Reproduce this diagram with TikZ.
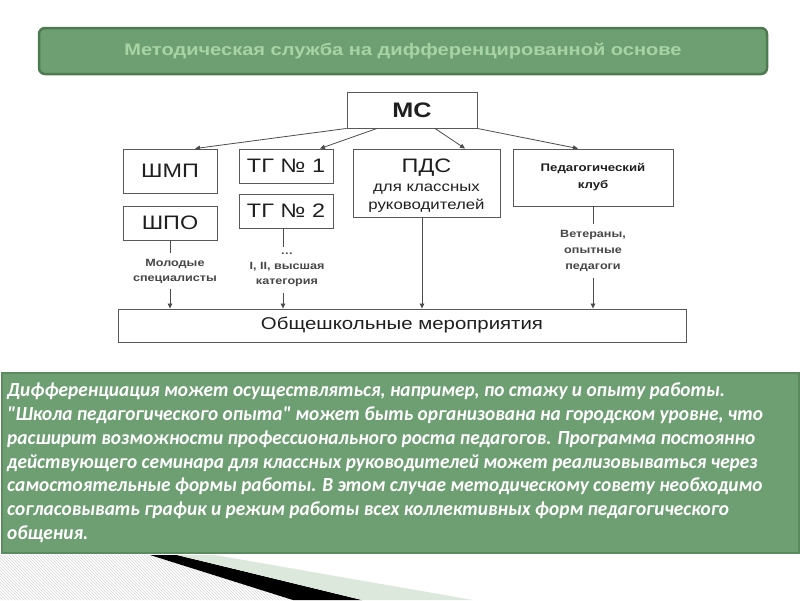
\documentclass[tikz,border=0pt]{standalone}
\usepackage{fontspec}
\setmainfont{Liberation Sans}
\newfontfamily\diag[FakeStretch=1.2]{Liberation Sans}
\newfontfamily\para[FakeStretch=0.965]{Carlito}
\usetikzlibrary{arrows.meta,patterns}
\definecolor{gfill}{HTML}{6E9F72}
\definecolor{gdark}{HTML}{4E7A52}
\definecolor{gbord}{HTML}{5A8A5E}
\definecolor{gtext}{HTML}{A8D4A4}
\definecolor{lgreen}{HTML}{DDE8DD}
\definecolor{hatch}{HTML}{D6D6D6}
\tikzset{
  box/.style={draw=black!65, line width=0.9pt, fill=white, inner sep=0pt, text=black!88, align=center},
  big/.style={font={\diag\fontsize{19.5}{21}\selectfont}},
  arr/.style={draw=black!70, line width=0.8pt, -{Triangle[length=5pt,width=4.5pt]}},
  ln/.style={draw=black!70, line width=0.8pt},
  lab/.style={font={\diag\bfseries\fontsize{10.5}{15}\selectfont}, text=black!72, align=center, inner xsep=2pt, inner ysep=6pt},
}
\begin{document}
\begin{tikzpicture}[x=1pt,y=-1pt]
\useasboundingbox (0,0) rectangle (800,600);
\fill[white] (0,0) rectangle (800,600);
% title bar
\node[draw=gdark, line width=2.5pt, fill=gfill, rounded corners=6pt, minimum width=728pt, minimum height=46pt, inner sep=0pt,
  font={\diag\bfseries\fontsize{16.7}{18}\selectfont}, text=gtext] (title) at (403,51) {Методическая служба на дифференцированной основе};
% boxes
\node[box, minimum width=130pt, minimum height=36pt, font={\diag\bfseries\fontsize{21}{23}\selectfont}] (ms) at (412,110) {МС};
\node[box, big, minimum width=94pt, minimum height=44pt] (shmp) at (170,171) {ШМП};
\node[box, big, minimum width=94pt, minimum height=34pt] (shpo) at (170,223) {ШПО};
\node[box, big, minimum width=94pt, minimum height=34pt] (tg1) at (286,166) {ТГ № 1};
\node[box, big, minimum width=94pt, minimum height=34pt] (tg2) at (286,211) {ТГ № 2};
\node[box, minimum width=147pt, minimum height=68pt, font={\diag\fontsize{14}{18.5}\selectfont}] (pds) at (426.5,183) {};
\node[align=center, inner sep=0pt, text=black!88, font={\diag\fontsize{14}{18.5}\selectfont}] (pdst) at (426.5,186)
  {{\fontsize{19.5}{21}\selectfont ПДС}\\[0pt]для классных\\руководителей};
\node[box, minimum width=160pt, minimum height=57pt, font={\diag\bfseries\fontsize{11}{17}\selectfont}] (club) at (593,177.5) {Педагогический\\клуб};
\node[box, minimum width=568pt, minimum height=33pt, font={\diag\fontsize{17}{19}\selectfont}] (all) at (402,325.5) {Общешкольные мероприятия};
% labels
\node[lab] (l1) at (175,271) {Молодые\\специалисты};
\node[lab] (l2) at (287,270) {…\\I, II, высшая\\категория};
\node[lab, font={\diag\bfseries\fontsize{10.5}{16}\selectfont}] (l3) at (593,251) {Ветераны,\\опытные\\педагоги};
% arrows from MC
\draw[arr] (ms.south west) -- ([xshift=25pt]shmp.north);
\draw[arr] ([xshift=-35pt]ms.south) -- ([xshift=34pt]tg1.north);
\draw[arr] ([xshift=23pt]ms.south) -- ([xshift=38.5pt]pds.north);
\draw[arr] (ms.south east) -- ([xshift=-15pt]club.north);
% vertical connectors
\draw[ln] (shpo.south) -- (shpo.south |- l1.north);
\draw[arr] (shpo.south |- l1.south) -- (shpo.south |- all.north);
\coordinate (tgb) at ([xshift=-3pt]tg2.south);
\draw[ln] (tgb) -- (tgb |- l2.north);
\draw[arr] (tgb |- l2.south) -- (tgb |- all.north);
\coordinate (pdsb) at ([xshift=-4.5pt]pds.south);
\draw[arr] (pdsb) -- (pdsb |- all.north);
\draw[ln] (club.south) -- (l3.north);
\draw[arr] (l3.south) -- (l3.south |- all.north);
% bottom text box
\node[draw=gbord, line width=2pt, fill=gfill, minimum width=797pt, minimum height=180pt, inner sep=0pt] (txtbox) at (400,462.5) {};
\node[anchor=north west, align=left, inner sep=0pt, text=white,
  font={\para\bfseries\itshape\fontsize{20}{23.7}\selectfont}] (txt) at (7,383)
  {Дифференциация может осуществляться, например, по стажу и опыту работы.\\
   "Школа педагогического опыта" может быть организована на городском уровне, что\\
   расширит возможности профессионального роста педагогов. Программа постоянно\\
   действующего семинара для классных руководителей может реализовываться через\\
   самостоятельные формы работы. В этом случае методическому совету необходимо\\
   согласовывать график и режим работы всех коллективных форм педагогического\\
   общения.};
% bottom decoration
\fill[pattern=north west lines, pattern color=hatch] (0,555) -- (150,555) -- (293,600) -- (0,600) -- cycle;
\fill[black] (150,555) -- (177,555) -- (362,600) -- (293,600) -- cycle;
\fill[lgreen] (177,555) -- (215,555) -- (473,600) -- (362,600) -- cycle;
\end{tikzpicture}
\end{document}
